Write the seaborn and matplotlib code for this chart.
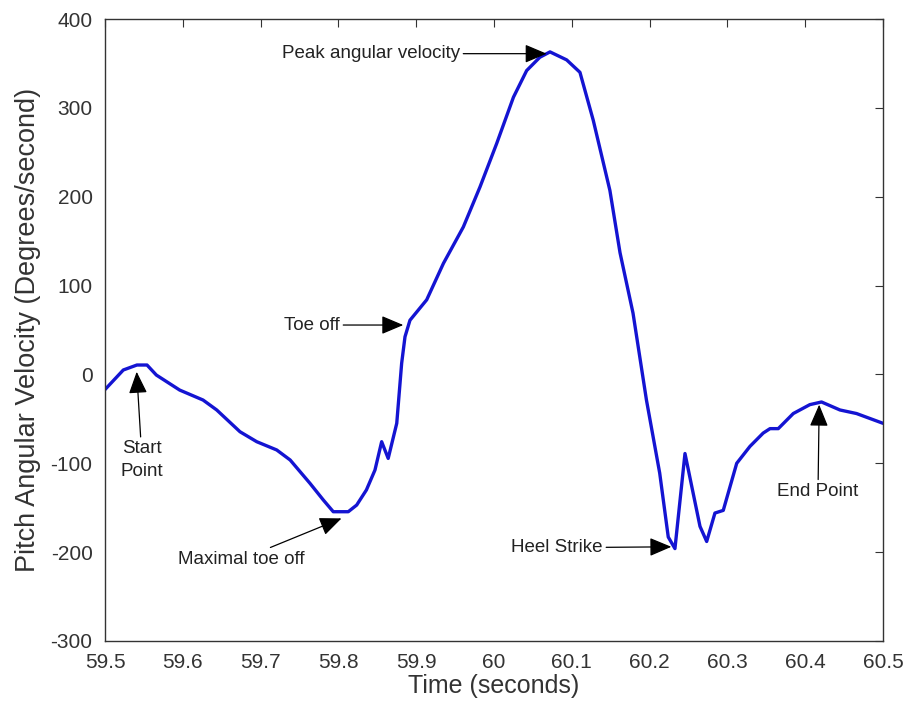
import matplotlib
matplotlib.use("Agg")
import matplotlib.pyplot as plt
import seaborn as sns
import pandas as pd

# ---- data ----
time_s = [59.5, 59.5235, 59.541, 59.554, 59.566, 59.596, 59.626, 59.6436, 59.6735, 59.695,
          59.7207, 59.738, 59.7635, 59.7806, 59.7934, 59.8127, 59.8235, 59.836, 59.847, 59.8556,
          59.864, 59.875, 59.8813, 59.8856, 59.892, 59.9135, 59.935, 59.9606, 59.982, 60.0035,
          60.025, 60.042, 60.059, 60.072, 60.0934, 60.1105, 60.1276, 60.149, 60.162, 60.1787,
          60.196, 60.213, 60.224, 60.2326, 60.2455, 60.2648, 60.2734, 60.284, 60.2947, 60.312,
          60.329, 60.346, 60.3548, 60.3654, 60.3847, 60.406, 60.421, 60.4447, 60.466, 60.5]
pitch_vel = [-17, 5, 10.6, 10.6, -0.7, -17.6, -28.8, -40, -64.5, -75.7,
             -85, -96.3, -122.6, -141.3, -154.5, -154.5, -147, -130, -107.6, -75.7,
             -94.5, -55, 12.5, 42.4, 61, 84, 125, 166, 211, 260,
             312, 342, 357, 363, 354, 340, 286, 207, 137, 69,
             -29, -111, -183, -196, -89, -171, -188, -156, -153, -100,
             -81, -66, -61, -61, -44, -34, -31, -40, -44, -55]

x_ticks = [59.5, 59.6, 59.7, 59.8, 59.9, 60.0, 60.1, 60.2, 60.3, 60.4, 60.5]
x_tick_labels = ["59.5", "59.6", "59.7", "59.8", "59.9", "60", "60.1", "60.2", "60.3", "60.4", "60.5"]
y_ticks = [-300, -200, -100, 0, 100, 200, 300, 400]

ann_labels = ["Start\nPoint", "Maximal toe off", "Toe off", "Peak angular velocity", "Heel Strike", "End Point"]
ann_tips = [(59.5407, 3), (59.804, -162), (59.8834, 55.6), (60.0677, 361), (60.228, -194), (60.418, -34)]
ann_texts = [(59.5476, -74), (59.6756, -208), (59.802, 55.6), (59.9563, 361), (60.140, -195), (60.4165, -122)]
ann_ha = ["center", "center", "right", "right", "right", "center"]
ann_va = ["top", "center", "center", "center", "center", "top"]

df = pd.DataFrame({"Time": time_s, "Velocity": pitch_vel})

sns.set_theme(style="white")
plt.rcParams["font.family"] = ["Liberation Sans", "DejaVu Sans"]
plt.rcParams["axes.unicode_minus"] = False

fig = plt.figure(figsize=(9.1, 7.15), dpi=100)
ax = fig.add_axes([0.1154, 0.1035, 0.8549, 0.8699])

sns.lineplot(data=df, x="Time", y="Velocity", sort=False, estimator=None,
             color="#1414d2", linewidth=2.4, ax=ax)

ax.set_xlim(59.5, 60.5)
ax.set_ylim(-300, 400)
ax.set_xticks(x_ticks)
ax.set_xticklabels(x_tick_labels)
ax.set_yticks(y_ticks)

ax.tick_params(axis="both", which="both", direction="in", length=6, width=0.8,
               top=True, right=True, labelsize=15, colors="#333333", pad=9)
for sp in ax.spines.values():
    sp.set_color("#333333")
    sp.set_linewidth(1.0)

ax.set_xlabel("Time (seconds)", fontsize=18, color="#333333", labelpad=1)
ax.set_ylabel("Pitch Angular Velocity (Degrees/second)", fontsize=19.5, color="#333333", labelpad=7)

arrowprops = dict(arrowstyle="-|>,head_length=0.9,head_width=0.38", color="black",
                  lw=0.9, shrinkA=0, shrinkB=0, mutation_scale=15)
for lab, tip, txt, ha, va in zip(ann_labels, ann_tips, ann_texts, ann_ha, ann_va):
    ax.annotate(lab, xy=tip, xytext=txt, ha=ha, va=va, fontsize=13.5, linespacing=1.45,
                color="#222222", arrowprops=arrowprops)

fig.savefig("out.png", dpi=100)
